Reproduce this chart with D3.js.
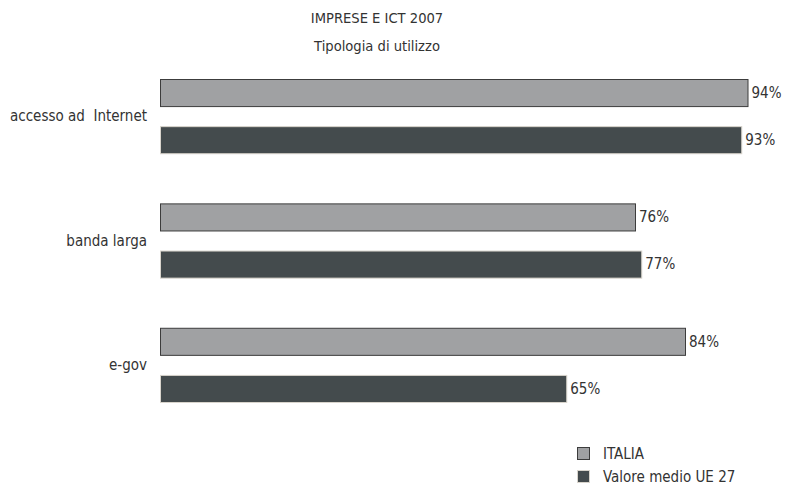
<!DOCTYPE html>
<html>
<head>
<meta charset="utf-8">
<script src="https://cdn.jsdelivr.net/npm/d3@7"></script>
<style>
  html, body { margin: 0; padding: 0; background: #fff; }
  svg text { font-family: "Liberation Sans Narrow", "DejaVu Sans Condensed", "Roboto", sans-serif; fill: #333; }
</style>
</head>
<body>
<svg id="chart" width="789" height="491"></svg>
<script>
// Uso delle ICT nelle imprese, 2007 (valori in %)
const categories = ["accesso ad  Internet", "banda larga", "e-gov"];
const series = ["ITALIA", "Valore medio UE 27"];
const italia = [94, 76, 84];
const ue27 = [93, 77, 65];
const titleLines = ["IMPRESE E ICT 2007", "Tipologia di utilizzo"];

const fills = ["#a0a1a3", "#444b4d"];
const strokes = ["#3c3c3c", "#d8d4cc"];

const svg = d3.select("#chart");

const x = d3.scaleLinear().domain([0, 100]).range([160, 785]);
const y0 = d3.scaleBand().domain(categories).range([79, 402]).paddingInner(50 / 124).paddingOuter(0);
const y1 = d3.scaleBand().domain(series).range([0, y0.bandwidth()]).paddingInner(20 / 47).paddingOuter(0);

const rows = categories.map((c, i) => ({ cat: c, vals: [italia[i], ue27[i]] }));

// Titolo
svg.selectAll("text.title").data(titleLines).join("text")
  .attr("class", "title")
  .attr("x", 377)
  .attr("y", (d, i) => 23 + i * 28)
  .attr("text-anchor", "middle")
  .style("font-size", "14.6px")
  .text(d => d);

// Gruppi di barre
const g = svg.selectAll("g.grp").data(rows).join("g")
  .attr("class", "grp")
  .attr("transform", d => `translate(0,${y0(d.cat)})`);

g.selectAll("rect").data(d => d.vals.map((v, j) => ({ s: series[j], v, j }))).join("rect")
  .attr("x", x(0) + 0.5)
  .attr("y", d => y1(d.s) + 0.5)
  .attr("width", d => x(d.v) - x(0))
  .attr("height", y1.bandwidth())
  .attr("fill", d => fills[d.j])
  .attr("stroke", d => strokes[d.j])
  .attr("stroke-width", 1);

g.selectAll("text.val").data(d => d.vals.map((v, j) => ({ s: series[j], v, j }))).join("text")
  .attr("class", "val")
  .attr("x", d => x(d.v) + 4)
  .attr("y", d => y1(d.s) + y1.bandwidth() / 2)
  .attr("dy", "0.35em")
  .style("font-size", "15px")
  .text(d => d.v + "%");

// Etichette delle categorie
g.append("text")
  .attr("x", 147)
  .attr("y", y0.bandwidth() / 2)
  .attr("dy", "0.35em")
  .attr("text-anchor", "end")
  .style("font-size", "15px")
  .style("white-space", "pre")
  .attr("xml:space", "preserve")
  .text(d => d.cat);

// Legenda
const leg = svg.selectAll("g.leg").data(series).join("g")
  .attr("class", "leg")
  .attr("transform", (d, i) => `translate(577,${447 + i * 23})`);

leg.append("rect")
  .attr("x", 0.5).attr("y", 0.5)
  .attr("width", 12).attr("height", 12)
  .attr("fill", (d, i) => fills[i])
  .attr("stroke", (d, i) => strokes[i]);

leg.append("text")
  .attr("x", 26)
  .attr("y", 6.5)
  .attr("dy", "0.35em")
  .style("font-size", "15px")
  .text(d => d);
</script>
</body>
</html>
